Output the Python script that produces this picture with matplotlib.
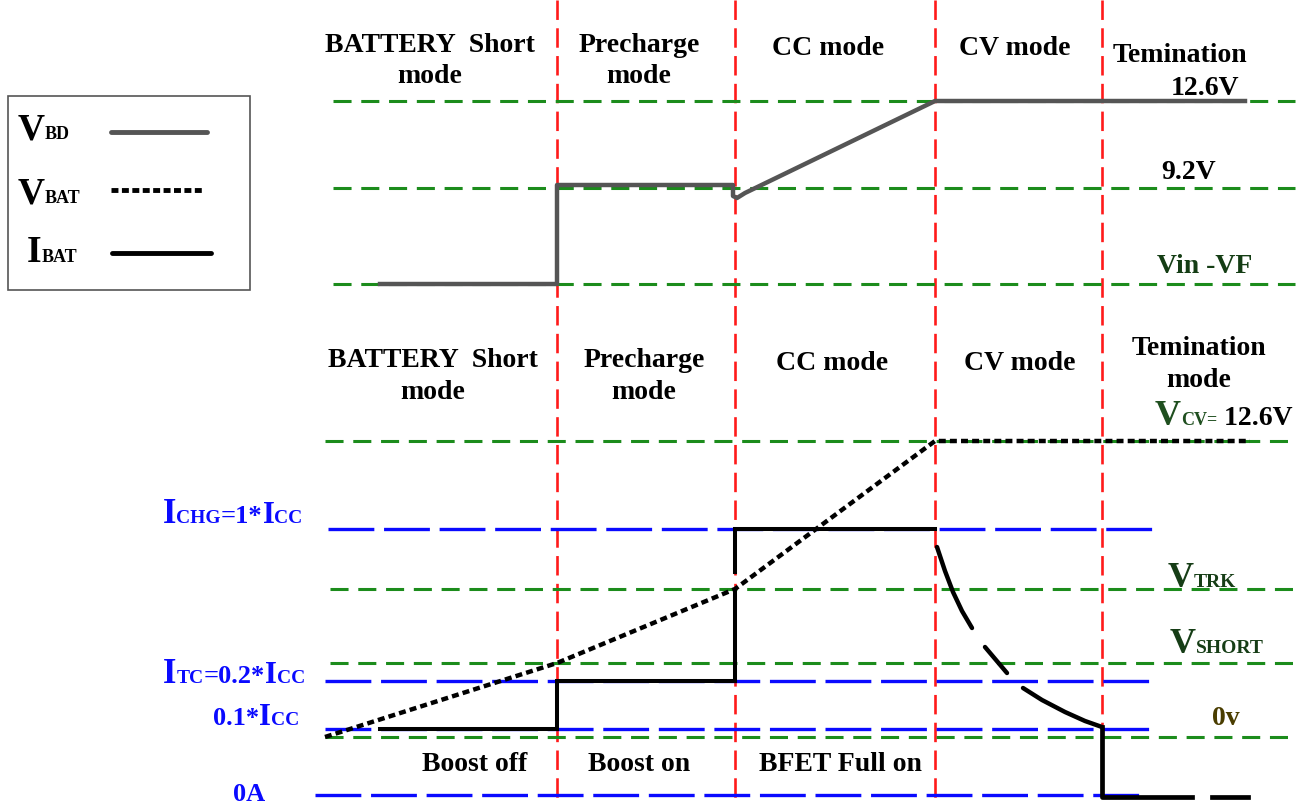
import matplotlib
matplotlib.use('Agg')
import matplotlib.pyplot as plt
import numpy as np
from matplotlib.patches import Rectangle

plt.rcParams['lines.scale_dashes'] = False
plt.rcParams['font.family'] = 'Liberation Serif'
plt.rcParams['font.weight'] = 'bold'

# mode boundaries (time axis, px units of the sketch)
mode_x = [557, 735, 935, 1102]

# reference levels
top_green_y = [101, 188, 284]
bot_green_y = [441, 589, 663, 737]
bot_green_x0 = [325, 330, 330, 325]
bot_blue_y = [529, 681, 729, 795]
bot_blue_x0 = [328, 325, 325, 315]
bot_blue_x1 = [1158, 1155, 1155, 1142]

# V_BD waveform
vbd_x = [380, 557, 557, 733, 733, 737, 745, 935, 1245]
vbd_y = [284, 284, 185, 185, 196, 198, 193, 101, 101]

# V_BAT waveform
vbat_x = [325, 557, 735, 935, 1250]
vbat_y = [737, 663, 589, 441, 441]

# I_BAT waveform
ibat_x = [380, 557, 557, 735, 735, np.nan, 735, 735, 935]
ibat_y = [729, 729, 681, 681, 590, np.nan, 572, 529, 529]
decay_x = [937, 945, 953, 962, 972, np.nan, 985, 1007, np.nan,
           1023, 1042, 1065, 1085, 1102]
decay_y = [547, 571, 592, 611, 628, np.nan, 647, 673, np.nan,
           688, 700, 712, 721, 727]
tail_x = [1102, 1102, 1192, np.nan, 1212, 1248]
tail_y = [727, 797, 797, np.nan, 797, 797]

top_modes = ['BATTERY  Short\nmode', 'Precharge\nmode', 'CC mode', 'CV mode']
top_modes_x = [430, 639, 828, 1015]
bot_modes = ['BATTERY  Short\nmode', 'Precharge\nmode', 'CC mode', 'CV mode', 'Temination\nmode']
bot_modes_x = [433, 644, 832, 1020, 1199]
boost_labels = ['Boost off', 'Boost on', 'BFET Full on']
boost_x = [475, 639, 840]

GREEN = '#1c8c1c'
BLUE = '#0a0aff'
RED = '#ff1a1a'
GRAY = '#555555'

fig = plt.figure(figsize=(13.07, 8.06), dpi=100)
ax = fig.add_axes([0, 0, 1, 1])
ax.set_xlim(0, 1307)
ax.set_ylim(806, 0)
ax.axis('off')
renderer = fig.canvas.get_renderer()


def rich(x, y, parts, ha='left'):
    # parts: (text, size, color) drawn side by side on one baseline
    objs = []
    widths = []
    for s, size, col in parts:
        t = ax.text(0, y, s, fontsize=size, color=col, va='baseline', ha='left')
        w = t.get_window_extent(renderer).width
        objs.append(t)
        widths.append(w)
    total = sum(widths)
    start = x - total / 2 if ha == 'center' else x
    for t, w in zip(objs, widths):
        t.set_x(start)
        start += w


# red mode boundaries
for x in mode_x:
    ax.plot([x, x], [0, 806], color=RED, lw=1.9, dashes=(14, 6))

# green voltage levels
for y in top_green_y:
    ax.plot([333, 1295], [y, y], color=GREEN, lw=2.2, dashes=(13, 7))
for y, x0 in zip(bot_green_y, bot_green_x0):
    ax.plot([x0, 1297], [y, y], color=GREEN, lw=2.2, dashes=(13, 7))
# blue current levels
for y, x0, x1 in zip(bot_blue_y, bot_blue_x0, bot_blue_x1):
    ax.plot([x0, x1], [y, y], color=BLUE, lw=2.4, dashes=(33, 7))

# waveforms
ax.plot(vbd_x, vbd_y, color=GRAY, lw=3.2, solid_joinstyle='round')
ax.plot(vbat_x, vbat_y, color='black', lw=3.2, dashes=(5, 3))
ax.plot(ibat_x, ibat_y, color='black', lw=2.9, solid_joinstyle='miter')
ax.plot(decay_x, decay_y, color='black', lw=3.2, solid_capstyle='round',
        solid_joinstyle='round')
ax.plot(tail_x, tail_y, color='black', lw=3.4)

# mode headers
for s, x in zip(top_modes, top_modes_x):
    lines = s.split('\n')
    for i, ln in enumerate(lines):
        ax.text(x, 52 + i * 31 + (3 if len(lines) == 1 else 0), ln, fontsize=20,
                ha='center', va='baseline')
for s, x in zip(bot_modes, bot_modes_x):
    lines = s.split('\n')
    base = 355 if s.startswith('Temination') else 367
    for i, ln in enumerate(lines):
        ax.text(x, base + i * 32 + (3 if len(lines) == 1 else 0), ln, fontsize=20,
                ha='center', va='baseline')
ax.text(1180, 62, 'Temination', fontsize=20, ha='center', va='baseline')
ax.text(1205, 95, '12.6V', fontsize=20, ha='center', va='baseline')
ax.text(1189, 179, '9.2V', fontsize=20, ha='center', va='baseline')
ax.text(1205, 273, 'Vin -VF', fontsize=20, ha='center', va='baseline', color='#143d14')

for s, x in zip(boost_labels, boost_x):
    ax.text(x, 771, s, fontsize=20, ha='center', va='baseline')

# right side voltage labels
rich(1155, 425, [('V', 26, '#1f4f1f'), ('CV=', 13, '#1f4f1f'), (' 12.6V', 20, 'black')])
rich(1168, 587, [('V', 26, '#163d16'), ('TRK', 14, '#163d16')])
rich(1170, 653, [('V', 26, '#163d16'), ('SHORT', 14, '#163d16')])
ax.text(1212, 725, '0v', fontsize=20, color='#4a3d00', va='baseline')

# left current labels
rich(163, 523, [('I', 25, BLUE), ('CHG', 14, BLUE), ('=1*', 19, BLUE), ('I', 22, BLUE), ('CC', 14, BLUE)])
rich(163, 683, [('I', 25, BLUE), ('TC', 14, BLUE), ('=0.2*', 19, BLUE), ('I', 22, BLUE), ('CC', 14, BLUE)])
rich(213, 725, [('0.1*', 19, BLUE), ('I', 22, BLUE), ('CC', 14, BLUE)])
ax.text(233, 801, '0A', fontsize=19, color=BLUE, va='baseline')

# legend box
ax.add_patch(Rectangle((8, 96), 242, 194, fill=False, edgecolor=GRAY, lw=1.2))
rich(18, 139, [('V', 27, 'black'), ('BD', 13, 'black')])
rich(18, 203, [('V', 27, 'black'), ('BAT', 13, 'black')])
rich(27, 262, [('I', 27, 'black'), ('BAT', 13, 'black')])
ax.plot([111, 207], [132, 132], color=GRAY, lw=3.5, solid_capstyle='round')
ax.plot([111, 203], [190, 190], color='black', lw=3.5, dashes=(5, 2.5))
ax.plot([112, 211], [253, 253], color='black', lw=3.5, solid_capstyle='round')

fig.savefig('out.png', dpi=100)
